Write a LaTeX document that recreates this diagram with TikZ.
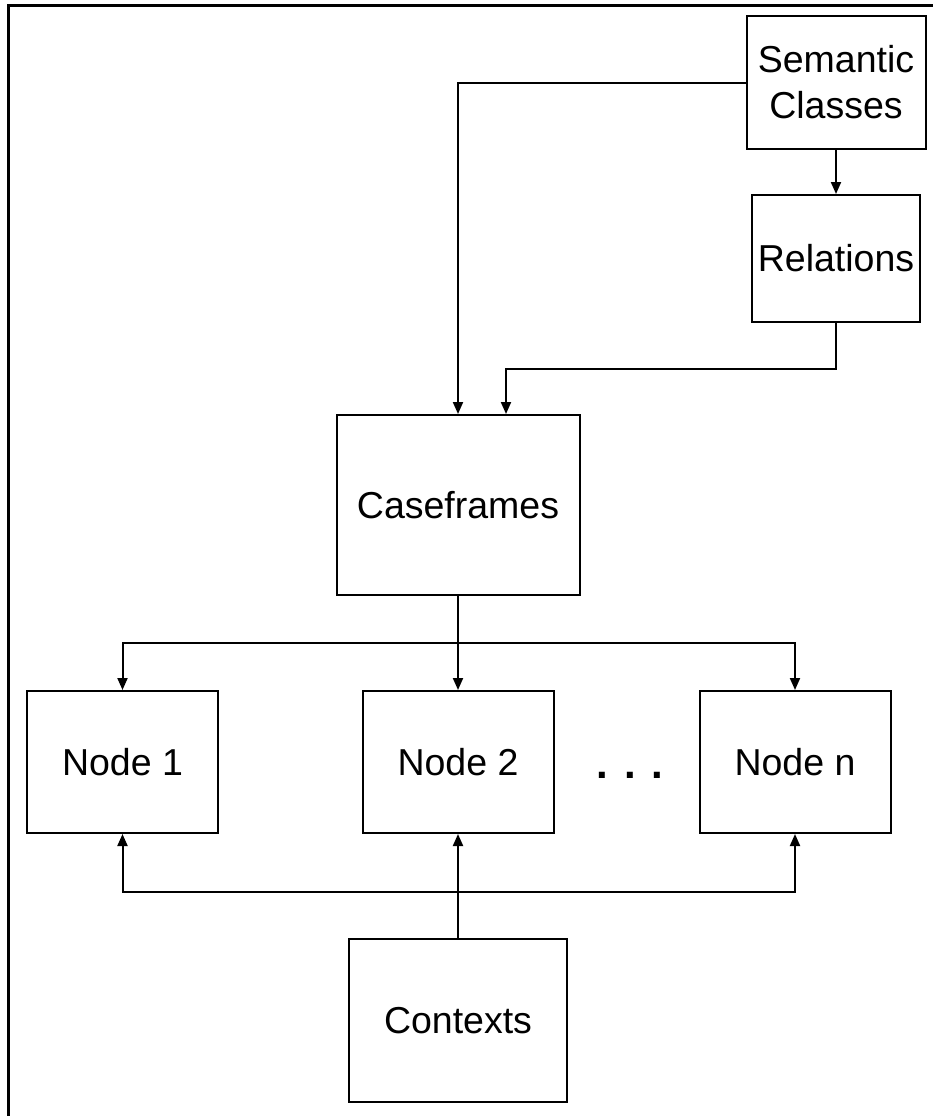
\documentclass[tikz,border=0pt]{standalone}
\usepackage{fontspec}
\setmainfont{Liberation Sans}
\usetikzlibrary{calc,arrows.meta,positioning}

\tikzset{
    box/.style={draw, rectangle, line width=2pt, inner sep=0pt, align=center,
        font=\fontsize{37.5}{46}\selectfont},
    arr/.style={line width=2pt, -{Triangle[width=10pt,length=12pt]}},
}

\begin{document}
\begin{tikzpicture}[x=1pt,y=-1pt]
        \useasboundingbox (0,0) rectangle (933,1116);
        \draw[line width=3pt] (933,6) -- (8,6) -- (8,1116);

        \node[box, minimum width=179pt, minimum height=133pt] (sem) at (836,82.5) {Semantic\\Classes};
        \node[box, minimum width=168pt, minimum height=127pt] (rel) at (836,258.5) {Relations};
        \node[box, minimum width=243pt, minimum height=180pt] (cf) at (458,505) {Caseframes};
        \node[box, minimum width=191pt, minimum height=142pt] (n1) at (122.5,762) {Node 1};
        \node[box, minimum width=191pt, minimum height=142pt] (n2) at (458,762) {Node 2};
        \node[box, minimum width=191pt, minimum height=142pt] (nn) at (795,762) {Node n};
        \node[inner sep=0pt, font=\fontsize{42}{46}\selectfont\bfseries] (dots) at (630,775) {.\hspace{0.38em}.\hspace{0.38em}.};
        \node[box, minimum width=218pt, minimum height=163pt] (ctx) at (458,1020.5) {Contexts};

        \coordinate (1) at (506,369);
        \coordinate (2) at (458,643);
        \coordinate (3) at (458,892);

        % top part
        \draw[arr] (sem.south) -- (rel.north);
        \draw[arr] (sem.west) -| (cf.north);
        \draw[arr] (rel.south) |- (1) -- (1 |- cf.north);

        % caseframes to nodes
        \draw[arr] (cf.south) -- (n2.north);
        \draw[arr] (2) -| (n1.north);
        \draw[arr] (2) -| (nn.north);

        % contexts to nodes
        \draw[arr] (ctx.north) -- (n2.south);
        \draw[arr] (3) -| (n1.south);
        \draw[arr] (3) -| (nn.south);
    \end{tikzpicture}
\end{document}
